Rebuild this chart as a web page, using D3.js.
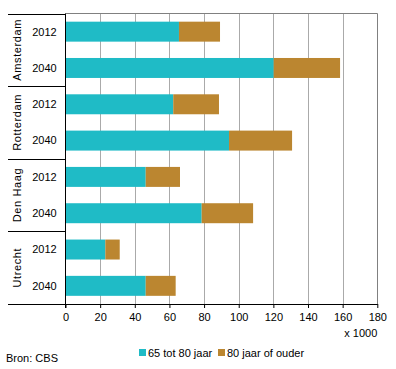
<!DOCTYPE html>
<html><head><meta charset="utf-8">
<script src="https://cdn.jsdelivr.net/npm/d3@7"></script>
<style>body{margin:0;background:#fff}svg{display:block;font-family:"Liberation Sans",Arial,sans-serif}</style>
</head><body><div id="chart"></div>
<script>
const cities = ["Amsterdam", "Rotterdam", "Den Haag", "Utrecht"];
const years = ["2012", "2040"];
const age65to80 = [65.5, 120.2, 62.2, 94.4, 46.3, 78.6, 23.0, 46.3];
const age80plus = [23.7, 38.3, 26.4, 36.4, 19.8, 29.7, 8.3, 17.3];
const seriesNames = ["65 tot 80 jaar", "80 jaar of ouder"];
const xTicks = [0, 20, 40, 60, 80, 100, 120, 140, 160, 180];
const colors = ["#1fbbc6", "#bb8630"];

const W = 396, H = 369;
const mLeft = 65.5, mRight = 377.3, mTop = 13.5, mBottom = 304;
const svg = d3.select("#chart").append("svg").attr("width", W).attr("height", H);

const rows = [];
cities.forEach((c, i) => years.forEach((yr, j) => {
  const k = i * 2 + j;
  rows.push({key: c + "|" + yr, city: c, year: yr, a: age65to80[k], b: age80plus[k]});
}));

const x = d3.scaleLinear().domain([0, 180]).range([mLeft, mRight]);
const y = d3.scaleBand().domain(rows.map(d => d.key)).range([mTop, mBottom]).paddingInner(0.45).paddingOuter(0.225);
const yg = d3.scaleBand().domain(cities).range([mTop, mBottom]);

// gridlines
svg.append("g").selectAll("line").data(xTicks.filter(t => t > 0 && t < 180)).join("line")
  .attr("x1", d => Math.round(x(d)) + 0.5).attr("x2", d => Math.round(x(d)) + 0.5)
  .attr("y1", mTop).attr("y2", mBottom).attr("stroke", "#aaaaaa").attr("stroke-width", 1);

// frame top/right
svg.append("path").attr("d", `M${mLeft},${mTop}H${Math.round(mRight)+0.5}V${mBottom}`)
  .attr("fill", "none").attr("stroke", "#808080").attr("stroke-width", 1);

// bars
const stack = d3.stack().keys(["a", "b"])(rows);
svg.append("g").selectAll("g").data(stack).join("g").attr("fill", (d, i) => colors[i])
  .selectAll("rect").data(d => d).join("rect")
  .attr("x", d => x(d[0])).attr("width", d => x(d[1]) - x(d[0]))
  .attr("y", d => y(d.data.key)).attr("height", y.bandwidth());

// x axis
const xAxis = d3.axisBottom(x).tickValues(xTicks).tickSize(4).tickSizeOuter(0);
const gx = svg.append("g").attr("transform", `translate(0,${mBottom})`).call(xAxis);
gx.select(".domain").attr("stroke", "#000");
gx.selectAll(".tick line").attr("stroke", "#000");
gx.selectAll(".tick text").attr("font-size", 11).attr("fill", "#000").attr("font-family", "Liberation Sans, Arial, sans-serif").attr("dy", "0.95em");
svg.append("text").attr("x", mRight).attr("y", 337).attr("text-anchor", "end")
  .attr("font-size", 11).text("x 1000");

// left axis line
svg.append("line").attr("x1", mLeft).attr("x2", mLeft).attr("y1", mTop).attr("y2", mBottom + 4)
  .attr("stroke", "#000");

// group separators
svg.append("g").selectAll("line").data(cities.map(c => yg(c)).concat([mBottom])).join("line")
  .attr("x1", 8).attr("x2", mLeft).attr("y1", d => Math.round(d) + 0.5).attr("y2", d => Math.round(d) + 0.5)
  .attr("stroke", "#000");

// year labels
svg.append("g").selectAll("text").data(rows).join("text")
  .attr("x", 44.5).attr("y", d => y(d.key) + y.bandwidth() / 2).attr("dy", "0.35em")
  .attr("text-anchor", "middle").attr("font-size", 11).text(d => d.year);

// city labels
svg.append("g").selectAll("text").data(cities).join("text")
  .attr("transform", d => `translate(20.5,${yg(d) + yg.bandwidth() / 2}) rotate(-90)`)
  .attr("text-anchor", "middle").attr("font-size", 11).attr("letter-spacing", "0.6px").text(d => d);

// legend
const lg = svg.append("g");
const legX = [139, 218];
seriesNames.forEach((n, i) => {
  lg.append("rect").attr("x", legX[i]).attr("y", 349).attr("width", 7).attr("height", 7).attr("fill", colors[i]);
  lg.append("text").attr("x", legX[i] + 9).attr("y", 356.5).attr("font-size", 11).text(n);
});

svg.append("text").attr("x", 6).attr("y", 362).attr("font-size", 11).text("Bron: CBS");
</script></body></html>
